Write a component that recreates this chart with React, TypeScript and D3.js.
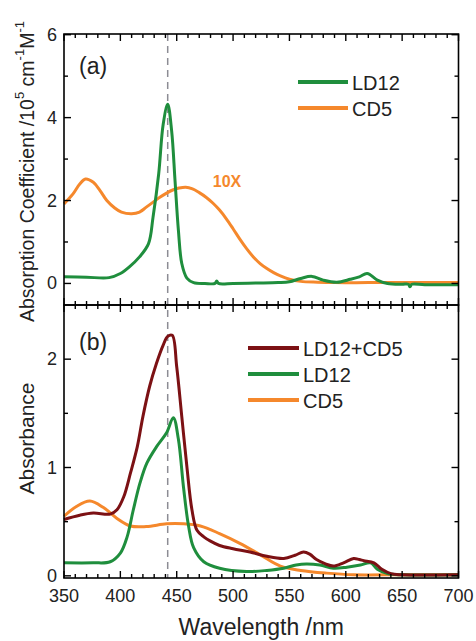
import * as d3 from "d3";

// ---- data ----
const ld12AWl = [350, 370, 390, 400, 408, 417, 425, 429, 434, 438, 442, 445.5, 448.5, 451.5, 454.5, 459, 465, 475, 484, 485.5, 487, 500, 520, 540, 550, 560, 570, 580, 592, 604, 612, 619, 628, 637, 650, 655.5, 657, 658.5, 670, 700];
const ld12AVal = [0.16, 0.15, 0.14, 0.24, 0.4, 0.64, 0.96, 1.6, 2.64, 3.84, 4.32, 3.68, 2.48, 1.28, 0.48, 0.13, 0.02, 0.0, 0.0, 0.06, 0.0, 0.0, 0.01, 0.02, 0.04, 0.12, 0.17, 0.08, 0.03, 0.1, 0.16, 0.24, 0.08, 0.0, -0.02, -0.02, -0.08, -0.02, -0.03, -0.03];

const cd5AWl = [350, 358, 364, 369, 376, 382, 388, 395, 401, 410, 417, 423, 430, 435, 441, 447, 452, 458, 464, 470, 476, 482, 488, 494, 500, 506, 512, 518, 524, 530, 536, 542, 550, 560, 575, 590, 620, 660, 700];
const cd5AVal = [1.92, 2.16, 2.4, 2.52, 2.44, 2.24, 2.0, 1.82, 1.72, 1.68, 1.72, 1.84, 1.98, 2.08, 2.18, 2.26, 2.3, 2.32, 2.28, 2.19, 2.08, 1.94, 1.77, 1.56, 1.32, 1.07, 0.84, 0.64, 0.48, 0.36, 0.26, 0.18, 0.1, 0.05, 0.03, 0.02, 0.02, 0.02, 0.02];

const mixBWl = [350, 364, 376, 391, 397, 403, 409, 415, 420, 426, 432, 438, 442, 446, 450, 454.5, 459, 463.5, 468, 474, 480, 488, 500, 515, 530, 545, 555, 562.5, 568, 574, 582, 589, 598, 607, 612, 616, 625, 632, 640, 650, 700];
const mixBVal = [0.52, 0.56, 0.58, 0.57, 0.61, 0.73, 0.95, 1.19, 1.47, 1.75, 1.96, 2.13, 2.21, 2.22, 1.93, 1.47, 1.01, 0.61, 0.42, 0.36, 0.32, 0.28, 0.25, 0.22, 0.18, 0.16, 0.19, 0.22, 0.2, 0.15, 0.11, 0.09, 0.12, 0.16, 0.15, 0.14, 0.12, 0.06, 0.02, 0.01, 0.01];

const ld12BWl = [350, 376, 391, 400, 406, 411.5, 417.5, 423.5, 432, 441, 447, 451.5, 456, 460.5, 465, 474, 488, 512, 530, 545, 556, 565, 577, 589, 601, 613, 622, 628, 637, 650, 700];
const ld12BVal = [0.12, 0.12, 0.13, 0.21, 0.36, 0.61, 0.86, 1.04, 1.19, 1.32, 1.46, 1.26, 0.82, 0.46, 0.26, 0.13, 0.07, 0.04, 0.05, 0.07, 0.1, 0.11, 0.1, 0.07, 0.08, 0.1, 0.12, 0.06, 0.02, 0.01, 0.01];

const cd5BWl = [350, 361, 373, 385, 397, 409, 423, 441, 456, 471, 488, 506, 524, 542, 560, 583, 607, 650, 700];
const cd5BVal = [0.55, 0.64, 0.69, 0.63, 0.53, 0.46, 0.455, 0.48, 0.48, 0.46, 0.39, 0.3, 0.195, 0.09, 0.05, 0.025, 0.01, 0.01, 0.01];

const xTickLabels = [350, 400, 450, 500, 550, 600, 650, 700];
const yTicksA = [0, 2, 4, 6];
const yTicksB = [0, 1, 2];
const markerWl = 442;

const colors = {
  LD12: "#1f8e3d",
  CD5: "#f5882c",
  MIX: "#7c1114",
  DASH: "#8c8c94",
};

const font = "'Liberation Sans', Arial, Helvetica, sans-serif";

const left = 64;
const right = 458.5;
const topA = 34;
const midY = 305;
const bottomB = 578;

const x = d3.scaleLinear().domain([350, 700]).range([left, right]);
const yA = d3.scaleLinear().domain([-0.52, 6]).range([midY, topA + 0.7]);
const yB = d3.scaleLinear().domain([-0.02, 2.5]).range([bottomB, midY]);

const zip = (wl: number[], v: number[]) => wl.map((w, i) => [w, v[i]] as [number, number]);

function pathFor(wl: number[], v: number[], y: d3.ScaleLinear<number, number>) {
  const line = d3
    .line<[number, number]>()
    .x((d) => x(d[0]))
    .y((d) => y(d[1]))
    .curve(d3.curveCatmullRom.alpha(0.5));
  return line(zip(wl, v)) || "";
}

function Frame({ top, bottom, y, majors, minors }: any) {
  const xMinor = d3.range(350, 701, 10);
  const items: any[] = [];
  xMinor.forEach((w) => {
    const len = w % 50 === 0 ? 7 : 4;
    items.push(<line key={"t" + w} x1={x(w)} x2={x(w)} y1={top} y2={top + len} />);
    items.push(<line key={"b" + w} x1={x(w)} x2={x(w)} y1={bottom} y2={bottom - len} />);
  });
  majors.forEach((v: number) => {
    items.push(<line key={"lm" + v} x1={left} x2={left + 7} y1={y(v)} y2={y(v)} />);
    items.push(<line key={"rm" + v} x1={right} x2={right - 7} y1={y(v)} y2={y(v)} />);
  });
  minors.forEach((v: number) => {
    items.push(<line key={"ln" + v} x1={left} x2={left + 4} y1={y(v)} y2={y(v)} />);
    items.push(<line key={"rn" + v} x1={right} x2={right - 4} y1={y(v)} y2={y(v)} />);
  });
  return (
    <g stroke="#000" strokeWidth={1.4}>
      {items}
      <rect x={left} y={top} width={right - left} height={bottom - top} fill="none" strokeWidth={1.6} />
    </g>
  );
}

export default function App() {
  return (
    <svg width={476} height={641} style={{ position: "absolute", left: 0, top: 0, background: "#fff" }} fontFamily={font}>
      {/* dashed marker line across both panels */}
      <line x1={x(markerWl)} x2={x(markerWl)} y1={topA} y2={bottomB} stroke={colors.DASH} strokeWidth={1.5} strokeDasharray="7,5" />

      {/* panel (a) */}
      <path d={pathFor(cd5AWl, cd5AVal, yA)} fill="none" stroke={colors.CD5} strokeWidth={3} strokeLinejoin="round" />
      <path d={pathFor(ld12AWl, ld12AVal, yA)} fill="none" stroke={colors.LD12} strokeWidth={3} strokeLinejoin="round" />
      <Frame top={topA} bottom={midY} y={yA} majors={yTicksA} minors={[1, 3, 5]} />

      {/* panel (b) */}
      <path d={pathFor(cd5BWl, cd5BVal, yB)} fill="none" stroke={colors.CD5} strokeWidth={3} strokeLinejoin="round" />
      <path d={pathFor(ld12BWl, ld12BVal, yB)} fill="none" stroke={colors.LD12} strokeWidth={3} strokeLinejoin="round" />
      <path d={pathFor(mixBWl, mixBVal, yB)} fill="none" stroke={colors.MIX} strokeWidth={3} strokeLinejoin="round" />
      <Frame top={midY} bottom={bottomB} y={yB} majors={yTicksB} minors={[0.5, 1.5]} />

      {/* y tick labels */}
      <g fontSize={18} textAnchor="end" dominantBaseline="central" fill="#222">
        {yTicksA.map((v) => (
          <text key={"ya" + v} x={57} y={yA(v)}>{v}</text>
        ))}
        {yTicksB.map((v) => (
          <text key={"yb" + v} x={57} y={yB(v)}>{v}</text>
        ))}
      </g>

      {/* x tick labels */}
      <g fontSize={18} textAnchor="middle" dominantBaseline="central" fill="#222">
        {xTickLabels.map((w) => (
          <text key={"x" + w} x={x(w)} y={596}>{w}</text>
        ))}
      </g>

      {/* axis titles */}
      <text x={(left + right) / 2} y={635} fontSize={23} textAnchor="middle" fill="#222">Wavelength /nm</text>
      <text transform={`translate(27,${(topA + midY) / 2 + 2}) rotate(-90)`} fontSize={19.5} textAnchor="middle" dominantBaseline="central" fill="#222">
        Absorption Coefficient /10
        <tspan fontSize={13} dy={-8}>5</tspan>
        <tspan dy={8}> cm</tspan>
        <tspan fontSize={13} dy={-8}>-1</tspan>
        <tspan dy={8}>M</tspan>
        <tspan fontSize={13} dy={-8}>-1</tspan>
      </text>
      <text transform={`translate(26,${(midY + bottomB) / 2 - 3}) rotate(-90)`} fontSize={21} textAnchor="middle" dominantBaseline="central" fill="#222">Absorbance</text>

      {/* panel labels */}
      <text x={79} y={74} fontSize={23} fill="#222">(a)</text>
      <text x={79} y={350} fontSize={23} fill="#222">(b)</text>

      {/* 10X annotation */}
      <text x={227} y={181} fontSize={16} fontWeight="bold" fill={colors.CD5} textAnchor="middle" dominantBaseline="central">10X</text>

      {/* legend (a) */}
      <g fontSize={20} dominantBaseline="central" fill="#222">
        <line x1={298} x2={348} y1={82} y2={82} stroke={colors.LD12} strokeWidth={4} />
        <text x={352} y={83}>LD12</text>
        <line x1={298} x2={348} y1={108} y2={108} stroke={colors.CD5} strokeWidth={4} />
        <text x={352} y={109}>CD5</text>
      </g>

      {/* legend (b) */}
      <g fontSize={20} dominantBaseline="central" fill="#222">
        <line x1={248} x2={299} y1={348} y2={348} stroke={colors.MIX} strokeWidth={4} />
        <text x={303} y={349}>LD12+CD5</text>
        <line x1={248} x2={299} y1={374} y2={374} stroke={colors.LD12} strokeWidth={4} />
        <text x={303} y={375}>LD12</text>
        <line x1={248} x2={299} y1={400} y2={400} stroke={colors.CD5} strokeWidth={4} />
        <text x={303} y={401}>CD5</text>
      </g>
    </svg>
  );
}
